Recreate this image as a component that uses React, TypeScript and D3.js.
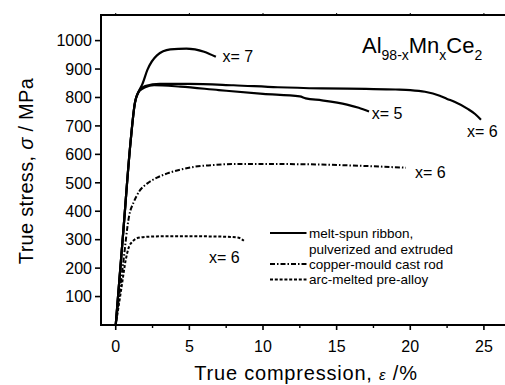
import React from 'react';
import * as d3 from 'd3';

// ---- data ----
const xTicks = [0, 5, 10, 15, 20, 25];
const xMinorTicks = [2.5, 7.5, 12.5, 17.5, 22.5];
const yTicks = [100, 200, 300, 400, 500, 600, 700, 800, 900, 1000];

// melt-spun ribbon, x=7
const strainX7 = [0, 0.5, 1.0, 1.3, 1.6, 1.8, 2.15, 2.8, 3.7, 4.8, 6.0, 6.8];
const stressX7 = [0, 320, 640, 780, 825, 846, 897, 948, 969, 972, 961, 943];
// melt-spun ribbon, x=6
const strainX6 = [0, 0.5, 1.0, 1.3, 1.6, 2.0, 3.0, 5, 8, 11, 14, 17, 19, 20, 21, 22, 22.5, 23, 23.9, 24.4, 24.8];
const stressX6 = [0, 320, 640, 780, 825, 840, 848, 848, 843, 836, 832, 830, 828, 826, 820, 806, 795, 785, 760, 742, 722];
// melt-spun ribbon, x=5
const strainX5 = [0, 0.5, 1.0, 1.3, 1.6, 2.0, 2.6, 4.4, 7, 10, 12.5, 12.9, 14, 15.7, 16.5, 17.2];
const stressX5 = [0, 320, 640, 780, 822, 836, 843, 838, 826, 813, 804, 797, 790, 775, 764, 751];
// copper-mould cast rod, x=6
const strainCast = [0, 0.5, 0.9, 1.24, 1.6, 2.15, 2.8, 3.5, 4.3, 5.3, 6.5, 8, 11, 14, 17, 19.7];
const stressCast = [0, 215, 381, 434, 470, 498, 518, 533, 545, 556, 562, 566, 566, 564, 559, 553];
// arc-melted pre-alloy, x=6
const strainArc = [0, 0.4, 0.68, 0.9, 1.13, 1.4, 1.7, 2.5, 3.5, 5, 7, 8.26, 8.7];
const stressArc = [0, 135, 229, 275, 293, 304, 308, 311, 312, 312, 311, 308, 296];

const curveLabels = ['x= 7', 'x= 5', 'x= 6', 'x= 6', 'x= 6'];
const labelStrain = [7.25, 17.38, 23.85, 20.32, 6.33];
const labelStress = [926, 724, 661, 516, 218];

const legendLabels = ['melt-spun ribbon,', 'pulverized and extruded', 'copper-mould cast rod', 'arc-melted pre-alloy'];

const FONT = 'Liberation Sans, Arial, Helvetica, sans-serif';

export default function App() {
  const W = 505, H = 385;
  const x = d3.scaleLinear().domain([-1, 26.5]).range([101, 506]);
  const y = d3.scaleLinear().domain([0, 1090]).range([325, 15]);

  const line = (xs: number[], ys: number[]) =>
    d3.line<number>()
      .x((_, i) => x(xs[i]))
      .y((_, i) => y(ys[i]))
      .curve(d3.curveMonotoneX)(xs) as string;

  const series = [
    { xs: strainX7, ys: stressX7, dash: undefined, w: 2.2 },
    { xs: strainX6, ys: stressX6, dash: undefined, w: 2.2 },
    { xs: strainX5, ys: stressX5, dash: undefined, w: 2.2 },
    { xs: strainCast, ys: stressCast, dash: '5 2 1.5 2', w: 2 },
    { xs: strainArc, ys: stressArc, dash: '3 1.8', w: 2 },
  ];

  const x0 = x.range()[0], x1 = x.range()[1];
  const yb = y.range()[0], yt = y.range()[1];

  const legX0 = 270, legX1 = 306.5, legTextX = 309;
  const legRows = [233, 249.5, 264, 279.5];
  const legDash = [undefined, null, '5 2 1.5 2', '3 1.8'];

  return (
    <svg width={W} height={H} style={{ position: 'absolute', left: 0, top: 0, background: '#fff' }} fontFamily={FONT}>
      <rect x={0} y={0} width={W} height={H} fill="#fff" />
      {/* frame */}
      <rect x={x0} y={yt} width={x1 - x0} height={yb - yt} fill="none" stroke="#000" strokeWidth={2} />
      {/* x ticks */}
      {xTicks.map((t) => (
        <g key={'xt' + t}>
          <line x1={x(t)} x2={x(t)} y1={yb} y2={yb + 5} stroke="#000" strokeWidth={1.6} />
          <line x1={x(t)} x2={x(t)} y1={yt} y2={yt - 2} stroke="#000" strokeWidth={1} />
          <text x={x(t)} y={351.5} textAnchor="middle" fontSize={16} fill="#000">{t}</text>
        </g>
      ))}
      {xMinorTicks.map((t) => (
        <line key={'xm' + t} x1={x(t)} x2={x(t)} y1={yb} y2={yb + 3} stroke="#000" strokeWidth={1.4} />
      ))}
      {/* y ticks */}
      {yTicks.map((t) => (
        <g key={'yt' + t}>
          <line x1={x0 - 6} x2={x0} y1={y(t)} y2={y(t)} stroke="#000" strokeWidth={1.6} />
          <text x={92} y={y(t)} dy="0.36em" textAnchor="end" fontSize={16} fill="#000">{t}</text>
        </g>
      ))}
      {/* axis titles */}
      <text x={306} y={380} textAnchor="middle" fontSize={20} letterSpacing={0.8} fill="#000">
        True compression,{'   '}<tspan fontStyle="italic" fontSize={15}>ε</tspan>{'  '}/%
      </text>
      <text transform="translate(33,171) rotate(-90)" textAnchor="middle" fontSize={20} letterSpacing={0.3} fill="#000">
        True stress,{'  '}<tspan fontStyle="italic">σ</tspan>{'  '}/ MPa
      </text>
      {/* curves */}
      {series.map((s, i) => (
        <path key={'s' + i} d={line(s.xs, s.ys)} fill="none" stroke="#000" strokeWidth={s.w}
          strokeDasharray={s.dash} strokeLinecap="butt" strokeLinejoin="round" />
      ))}
      {/* curve labels */}
      {curveLabels.map((l, i) => (
        <text key={'cl' + i} x={x(labelStrain[i])} y={y(labelStress[i])} fontSize={16} fill="#000">{l}</text>
      ))}
      {/* composition title */}
      <text x={362} y={53} fontSize={22} fill="#000">
        Al<tspan fontSize={14} dy={7}>98-x</tspan>
        <tspan dy={-7}>Mn</tspan><tspan fontSize={14} dy={7}>x</tspan>
        <tspan dy={-7}>Ce</tspan><tspan fontSize={14} dy={7}>2</tspan>
      </text>
      {/* legend */}
      {legendLabels.map((l, i) => (
        <g key={'lg' + i}>
          {legDash[i] !== null && (
            <line x1={legX0} x2={legX1} y1={legRows[i]} y2={legRows[i]} stroke="#000" strokeWidth={2}
              strokeDasharray={legDash[i] as string | undefined} />
          )}
          <text x={legTextX} y={legRows[i]} dy="0.36em" fontSize={13.5} fill="#000">{l}</text>
        </g>
      ))}
    </svg>
  );
}
